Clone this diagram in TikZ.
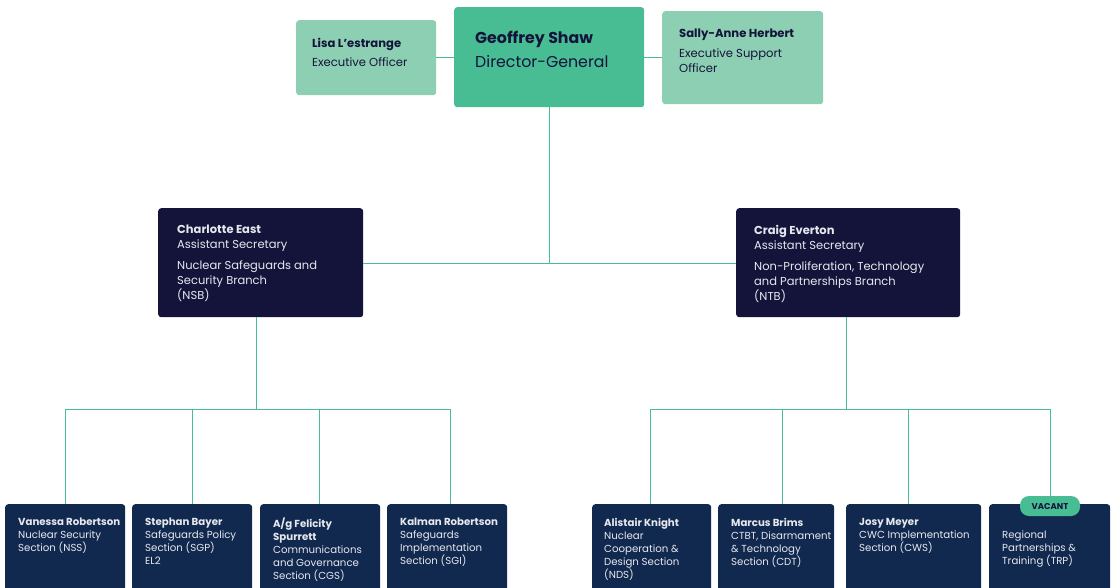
\documentclass[tikz,border=0pt]{standalone}
\usepackage{fontspec}
\setmainfont{Poppins}
\definecolor{dkgreen}{HTML}{48BD94}
\definecolor{ltgreen}{HTML}{8DCFB2}
\definecolor{navyA}{HTML}{14143A}
\definecolor{navyB}{HTML}{12294F}
\definecolor{txtdark}{HTML}{14143A}
\definecolor{txtlight}{HTML}{E6E8EE}
\tikzset{
  boxbase/.style={draw=none, rounded corners=3pt, inner sep=0pt, anchor=north west},
  topbox/.style={boxbase, fill=ltgreen},
  dgbox/.style={boxbase, fill=dkgreen},
  asbox/.style={boxbase, fill=navyA},
  secbox/.style={boxbase, fill=navyB},
  conn/.style={draw=dkgreen, line width=0.9pt},
  txtbase/.style={anchor=north west, inner sep=0pt, align=left, execute at begin node={\rule{0pt}{10pt}}},
  toptext/.style={txtbase, text=txtdark, font=\fontsize{11.6}{15}\selectfont},
  dgtext/.style={txtbase, text=txtdark, font=\fontsize{15.8}{24}\selectfont},
  astext/.style={txtbase, text=txtlight, font=\fontsize{11.5}{15}\selectfont},
  sectext/.style={txtbase, text=txtlight, font=\fontsize{10.2}{13}\selectfont},
  pill/.style={fill=dkgreen, rounded corners=9pt, minimum width=60pt, minimum height=20pt, inner sep=0pt, text=txtdark, font=\bfseries\fontsize{8.5}{9}\selectfont}
}
\begin{document}
\begin{tikzpicture}[x=1pt,y=-1pt]
\useasboundingbox (0,0) rectangle (1116,587);
\clip (0,0) rectangle (1116,587);
% top row
\node[topbox, minimum width=140pt, minimum height=75pt] (lisa) at (296,20) {};
\node[dgbox, minimum width=190pt, minimum height=100pt] (dg) at (454,7) {};
\node[topbox, minimum width=161pt, minimum height=93pt] (sally) at (662,11) {};
\node[toptext] (lisaT) at (312,38) {\textbf{Lisa L’estrange}\\[4pt]Executive Officer};
\node[dgtext] (dgT) at (475,31) {\textbf{Geoffrey Shaw}\\Director-General};
\node[toptext] (sallyT) at (679,29) {\textbf{Sally-Anne Herbert}\\[5pt]Executive Support\\Officer};
% branch heads
\node[asbox, minimum width=205pt, minimum height=109pt] (nsb) at (158,208) {};
\node[asbox, minimum width=224pt, minimum height=109pt] (ntb) at (736,208) {};
\node[astext] (nsbT) at (177,225) {\textbf{Charlotte East}\\Assistant Secretary\\[6pt]Nuclear Safeguards and\\Security Branch\\(NSB)};
\node[astext] (ntbT) at (754,225) {\textbf{Craig Everton}\\Assistant Secretary\\[6pt]Non-Proliferation, Technology\\and Partnerships Branch\\(NTB)};
% sections
\node[secbox, minimum width=120pt, minimum height=100pt] (nss) at (5,504) {};
\node[secbox, minimum width=120pt, minimum height=100pt] (sgp) at (132,504) {};
\node[secbox, minimum width=120pt, minimum height=100pt] (cgs) at (260,504) {};
\node[secbox, minimum width=120pt, minimum height=100pt] (sgi) at (387,504) {};
\node[secbox, minimum width=119pt, minimum height=100pt] (nds) at (592,504) {};
\node[secbox, minimum width=116pt, minimum height=100pt] (cdt) at (718,504) {};
\node[secbox, minimum width=135pt, minimum height=100pt] (cws) at (846,504) {};
\node[secbox, minimum width=121pt, minimum height=100pt] (trp) at (989,504) {};
\node[sectext] (nssT) at (18,518) {\textbf{Vanessa Robertson}\\Nuclear Security\\Section (NSS)};
\node[sectext] (sgpT) at (145,518) {\textbf{Stephan Bayer}\\Safeguards Policy\\Section (SGP)\\EL2};
\node[sectext] (cgsT) at (273,518) {\textbf{A/g Felicity}\\\textbf{Spurrett}\\Communications\\and Governance\\Section (CGS)};
\node[sectext] (sgiT) at (400,518) {\textbf{Kalman Robertson}\\Safeguards\\Implementation\\Section (SGI)};
\node[sectext] (ndsT) at (604,518) {\textbf{Alistair Knight}\\Nuclear\\Cooperation \&\\Design Section\\(NDS)};
\node[sectext] (cdtT) at (731,518) {\textbf{Marcus Brims}\\CTBT, Disarmament\\\& Technology\\Section (CDT)};
\node[sectext] (cwsT) at (859,518) {\textbf{Josy Meyer}\\CWC Implementation\\Section (CWS)};
\node[sectext] (trpT) at (1002,531) {Regional\\Partnerships \&\\Training (TRP)};
\node[pill] (vac) at (1050,506) {VACANT};
% connectors
\coordinate (dgb) at (549,107);
\coordinate (mid) at (549,263);
\draw[conn] (lisa.east |- 0,57) -- (dg.west |- 0,57);
\draw[conn] (dg.east |- 0,57) -- (sally.west |- 0,57);
\draw[conn] (dgb) -- (mid);
\draw[conn] (nsb.east |- mid) -- (ntb.west |- mid);
% NSB tree
\coordinate (nsbB) at (256,317);
\coordinate (nsbJ) at (256,409);
\draw[conn] (nsbB) -- (nsbJ);
\draw[conn] (65,409) -- (450,409);
\draw[conn] (65,409) -- (65,504);
\draw[conn] (192,409) -- (192,504);
\draw[conn] (319,409) -- (319,504);
\draw[conn] (450,409) -- (450,504);
% NTB tree
\coordinate (ntbB) at (846,317);
\coordinate (ntbJ) at (846,409);
\draw[conn] (ntbB) -- (ntbJ);
\draw[conn] (650,409) -- (1050,409);
\draw[conn] (650,409) -- (650,504);
\draw[conn] (782,409) -- (782,504);
\draw[conn] (908,409) -- (908,504);
\draw[conn] (1050,409) -- (vac.north);
\end{tikzpicture}
\end{document}
